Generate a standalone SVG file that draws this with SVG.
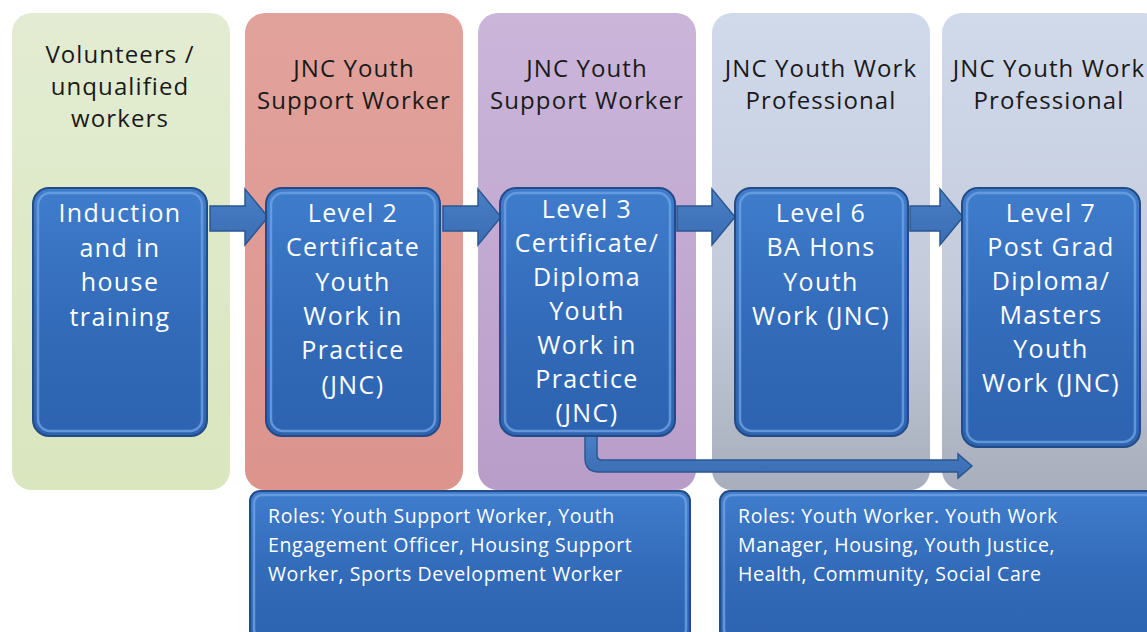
<svg xmlns="http://www.w3.org/2000/svg" width="1147" height="632" viewBox="0 0 1147 632">
  <defs>
    <linearGradient id="gGreen" x1="0" y1="0" x2="0" y2="1">
      <stop offset="0" stop-color="#e3ecd2"/>
      <stop offset="1" stop-color="#d9e6be"/>
    </linearGradient>
    <linearGradient id="gRed" x1="0" y1="0" x2="0" y2="1">
      <stop offset="0" stop-color="#e2a29c"/>
      <stop offset="1" stop-color="#dc948d"/>
    </linearGradient>
    <linearGradient id="gPurple" x1="0" y1="0" x2="0" y2="1">
      <stop offset="0" stop-color="#cbb6da"/>
      <stop offset="1" stop-color="#b99dc9"/>
    </linearGradient>
    <linearGradient id="gGrey" x1="0" y1="0" x2="0" y2="1">
      <stop offset="0" stop-color="#d1daeb"/>
      <stop offset="0.6" stop-color="#c3cbdb"/>
      <stop offset="1" stop-color="#a8aebb"/>
    </linearGradient>
    <linearGradient id="gBlue" x1="0" y1="0" x2="0" y2="1">
      <stop offset="0" stop-color="#3f7dcc"/>
      <stop offset="0.5" stop-color="#336cba"/>
      <stop offset="1" stop-color="#2d63b0"/>
    </linearGradient>
    <linearGradient id="gArrow" x1="0" y1="0" x2="0" y2="1">
      <stop offset="0" stop-color="#4a80c6"/>
      <stop offset="1" stop-color="#3a6cb2"/>
    </linearGradient>
    <style>
      .col { stroke: none; }
      .box { fill: url(#gBlue); stroke: #234b86; stroke-width: 2; }
      .bevel { fill: none; stroke: #6fa3e2; stroke-width: 2.5; opacity: 0.8; }
      .arrow { fill: url(#gArrow); stroke: #2b5793; stroke-width: 1.5; }
      .head { font-family: "Open Sans", "Liberation Sans", sans-serif; font-size: 24px; letter-spacing: 1.1px; fill: #1a1a1a; text-anchor: middle; }
      .lbl { font-family: "Open Sans", "Liberation Sans", sans-serif; font-size: 25px; letter-spacing: 1.4px; fill: #ffffff; text-anchor: middle; }
      .roles { font-family: "Open Sans", "Liberation Sans", sans-serif; font-size: 19.5px; letter-spacing: 0.6px; fill: #ffffff; }
    </style>
  </defs>

  <!-- column backgrounds with headings -->
  <g id="col-volunteers">
    <rect class="col" x="12" y="13" width="218" height="477" rx="20" fill="url(#gGreen)"/>
    <text class="head" x="120" y="63">Volunteers /<tspan x="120" dy="32">unqualified</tspan><tspan x="120" dy="32">workers</tspan></text>
  </g>
  <g id="col-support-2">
    <rect class="col" x="245" y="13" width="218" height="477" rx="20" fill="url(#gRed)"/>
    <text class="head" x="354" y="77">JNC Youth<tspan x="354" dy="32">Support Worker</tspan></text>
  </g>
  <g id="col-support-3">
    <rect class="col" x="478" y="13" width="218" height="477" rx="20" fill="url(#gPurple)"/>
    <text class="head" x="587" y="77">JNC Youth<tspan x="587" dy="32">Support Worker</tspan></text>
  </g>
  <g id="col-professional-6">
    <rect class="col" x="712" y="13" width="218" height="477" rx="20" fill="url(#gGrey)"/>
    <text class="head" x="821" y="77">JNC Youth Work<tspan x="821" dy="32">Professional</tspan></text>
  </g>
  <g id="col-professional-7">
    <rect class="col" x="942" y="13" width="222" height="477" rx="20" fill="url(#gGrey)"/>
    <text class="head" x="1049" y="77">JNC Youth Work<tspan x="1049" dy="32">Professional</tspan></text>
  </g>

  <!-- connectors -->
  <g id="connectors">
    <path class="arrow" d="M210 206 H245 V189 L268 217 L245 245 V231 H210 Z"/>
    <path class="arrow" d="M443 206 H478 V189 L501 217 L478 245 V231 H443 Z"/>
    <path class="arrow" d="M677 206 H712 V189 L735 217 L712 245 V231 H677 Z"/>
    <path class="arrow" d="M910 206 H940 V189 L963 217 L940 245 V231 H910 Z"/>
    <path class="arrow" d="M585 434 V458 Q585 472 599 472 H958 V478 L972 466 L958 454 V460 H602 Q597 460 597 455 V434 Z"/>
  </g>

  <!-- qualification boxes -->
  <g id="induction">
    <rect class="box" x="33" y="188" width="174" height="248" rx="16"/>
    <rect class="bevel" x="38" y="193" width="164" height="238" rx="12"/>
    <text class="lbl" x="120" y="222">Induction<tspan x="120" dy="34.5">and in</tspan><tspan x="120" dy="34.5">house</tspan><tspan x="120" dy="34.5">training</tspan></text>
  </g>
  <g id="level-2">
    <rect class="box" x="266" y="188" width="174" height="248" rx="16"/>
    <rect class="bevel" x="271" y="193" width="164" height="238" rx="12"/>
    <text class="lbl" x="353" y="222">Level 2<tspan x="353" dy="34.3">Certificate</tspan><tspan x="353" dy="34.3">Youth</tspan><tspan x="353" dy="34.3">Work in</tspan><tspan x="353" dy="34.3">Practice</tspan><tspan x="353" dy="34.3">(JNC)</tspan></text>
  </g>
  <g id="level-3">
    <rect class="box" x="500" y="188" width="175" height="248" rx="16"/>
    <rect class="bevel" x="505" y="193" width="165" height="238" rx="12"/>
    <text class="lbl" x="587" y="218">Level 3<tspan x="587" dy="34">Certificate/</tspan><tspan x="587" dy="34">Diploma</tspan><tspan x="587" dy="34">Youth</tspan><tspan x="587" dy="34">Work in</tspan><tspan x="587" dy="34">Practice</tspan><tspan x="587" dy="34">(JNC)</tspan></text>
  </g>
  <g id="level-6">
    <rect class="box" x="735" y="188" width="173" height="248" rx="16"/>
    <rect class="bevel" x="740" y="193" width="163" height="238" rx="12"/>
    <text class="lbl" x="821" y="222">Level 6<tspan x="821" dy="34.3">BA Hons</tspan><tspan x="821" dy="34.3">Youth</tspan><tspan x="821" dy="34.3">Work (JNC)</tspan></text>
  </g>
  <g id="level-7">
    <rect class="box" x="962" y="188" width="178" height="259" rx="16"/>
    <rect class="bevel" x="967" y="193" width="168" height="249" rx="12"/>
    <text class="lbl" x="1051" y="222">Level 7<tspan x="1051" dy="34">Post Grad</tspan><tspan x="1051" dy="34">Diploma/</tspan><tspan x="1051" dy="34">Masters</tspan><tspan x="1051" dy="34">Youth</tspan><tspan x="1051" dy="34">Work (JNC)</tspan></text>
  </g>

  <!-- role boxes -->
  <g id="roles-support">
    <rect class="box" x="250" y="491" width="440" height="150" rx="10"/>
    <rect class="bevel" x="254" y="495" width="432" height="142" rx="8"/>
    <text class="roles" x="268" y="523">Roles: Youth Support Worker, Youth<tspan x="268" dy="29">Engagement Officer, Housing Support</tspan><tspan x="268" dy="29">Worker, Sports Development Worker</tspan></text>
  </g>
  <g id="roles-professional">
    <rect class="box" x="720" y="491" width="440" height="150" rx="10"/>
    <rect class="bevel" x="724" y="495" width="432" height="142" rx="8"/>
    <text class="roles" x="738" y="523">Roles: Youth Worker. Youth Work<tspan x="738" dy="29">Manager, Housing, Youth Justice,</tspan><tspan x="738" dy="29">Health, Community, Social Care</tspan></text>
  </g>
</svg>
